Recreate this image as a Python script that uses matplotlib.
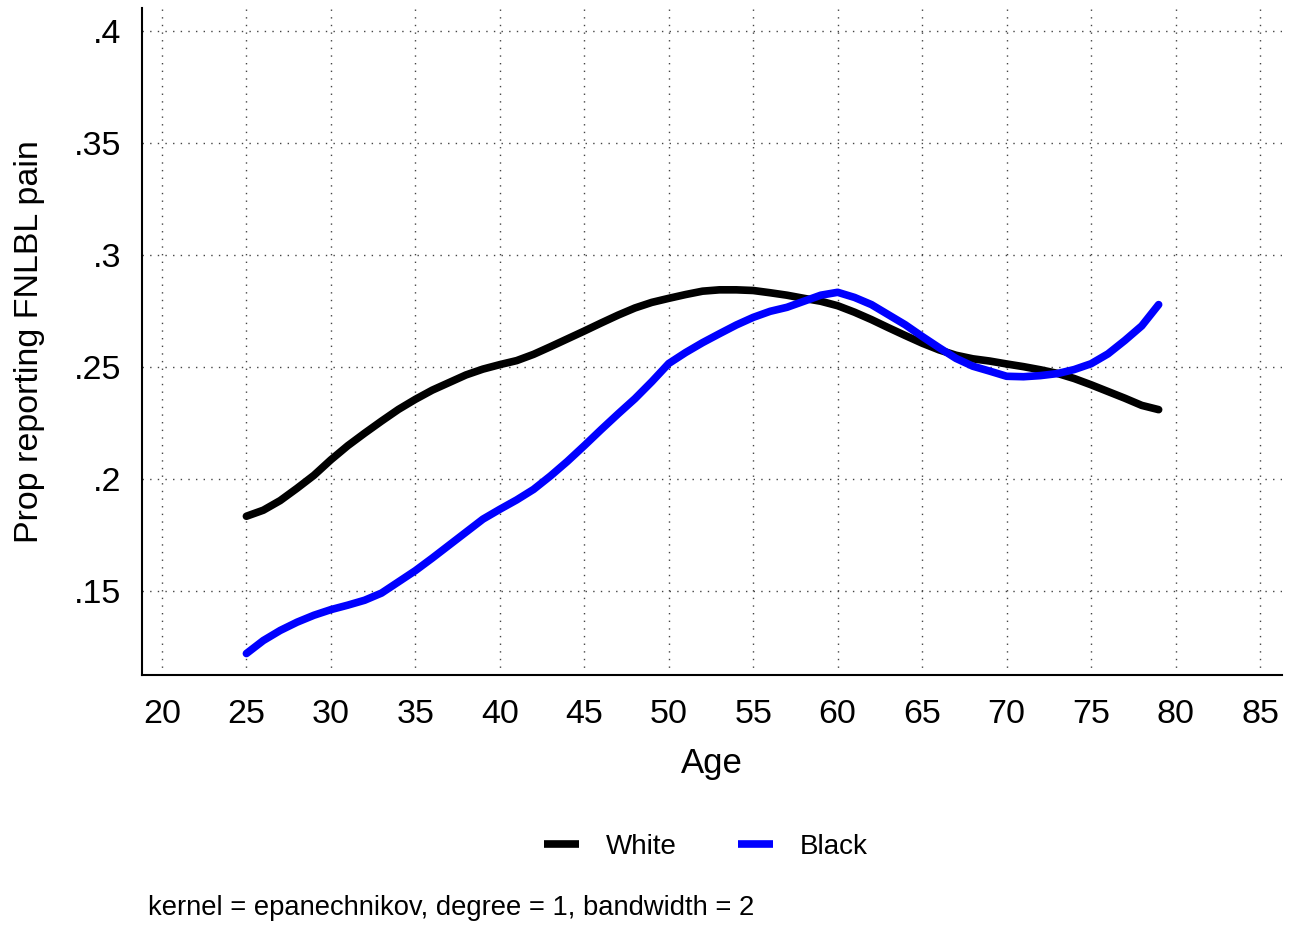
import matplotlib
matplotlib.use("Agg")
import matplotlib.pyplot as plt
from matplotlib.lines import Line2D
from matplotlib.ticker import FuncFormatter

plt.rcParams['font.family'] = ['Liberation Sans', 'DejaVu Sans']

ages = list(range(25, 80))
white = [.1835, .1862, .1905, .1960, .2018, .2087, .2150, .2206, .2260, .2312,
         .2357, .2398, .2432, .2466, .2492, .2512, .2530, .2558, .2592, .2627,
         .2662, .2698, .2733, .2765, .2790, .2808, .2825, .2840, .2846, .2846,
         .2843, .2833, .2822, .2808, .2795, .2775, .2746, .2713, .2677, .2642,
         .2608, .2578, .2554, .2538, .2528, .2515, .2503, .2489, .2473, .2450,
         .2422, .2392, .2362, .2330, .2311]
black = [.1222, .1280, .1325, .1362, .1393, .1418, .1438, .1460, .1492, .1542,
         .1592, .1648, .1706, .1764, .1822, .1866, .1908, .1955, .2015, .2080,
         .2150, .2222, .2292, .2360, .2436, .2517, .2566, .2610, .2650, .2689,
         .2723, .2750, .2768, .2795, .2822, .2835, .2812, .2780, .2735, .2690,
         .2638, .2588, .2540, .2505, .2483, .2460, .2458, .2463, .2472, .2490,
         .2516, .2560, .2620, .2685, .2780]
xticks = list(range(20, 90, 5))
yticks = [.15, .2, .25, .3, .35, .4]
names = ['White', 'Black']
colors = ['black', '#0000ff']

fig = plt.figure(figsize=(12.91, 9.25), dpi=100)
ax = fig.add_axes([0.110, 0.270, 0.883, 0.721])

for y, c in zip([white, black], colors):
    ax.plot(ages, y, color=c, lw=5.5, solid_capstyle='round')

ax.set_xlim(18.82, 86.3)
ax.set_ylim(.1125, .4103)
ax.set_xticks(xticks)
ax.set_yticks(yticks)
ax.yaxis.set_major_formatter(FuncFormatter(lambda v, p: ('%g' % v).lstrip('0')))
ax.tick_params(axis='x', length=0, labelsize=24.5, pad=17)
ax.tick_params(axis='y', length=0, labelsize=24.5, pad=15)
ax.grid(True, color='#444444', lw=1, linestyle=(0, (1, 4.5)))
ax.set_axisbelow(True)
for s in ['top', 'right']:
    ax.spines[s].set_visible(False)
for s in ['left', 'bottom']:
    ax.spines[s].set_linewidth(1.5)

ax.set_xlabel('Age', fontsize=25, labelpad=12)
ax.set_ylabel('Prop reporting FNLBL pain', fontsize=24.5, labelpad=21)

handles = [Line2D([], [], color=c, lw=5.5, solid_capstyle='butt') for c in colors]
fig.legend(handles, names, loc='center', bbox_to_anchor=(0.5465, 0.0845), ncol=2,
           frameon=False, fontsize=20, handlelength=1.26, columnspacing=2.2,
           handletextpad=0.97)
fig.text(0.1146, 0.0186, 'kernel = epanechnikov, degree = 1, bandwidth = 2',
         fontsize=19.7, ha='left', va='center')

fig.savefig('out.png', dpi=100)
